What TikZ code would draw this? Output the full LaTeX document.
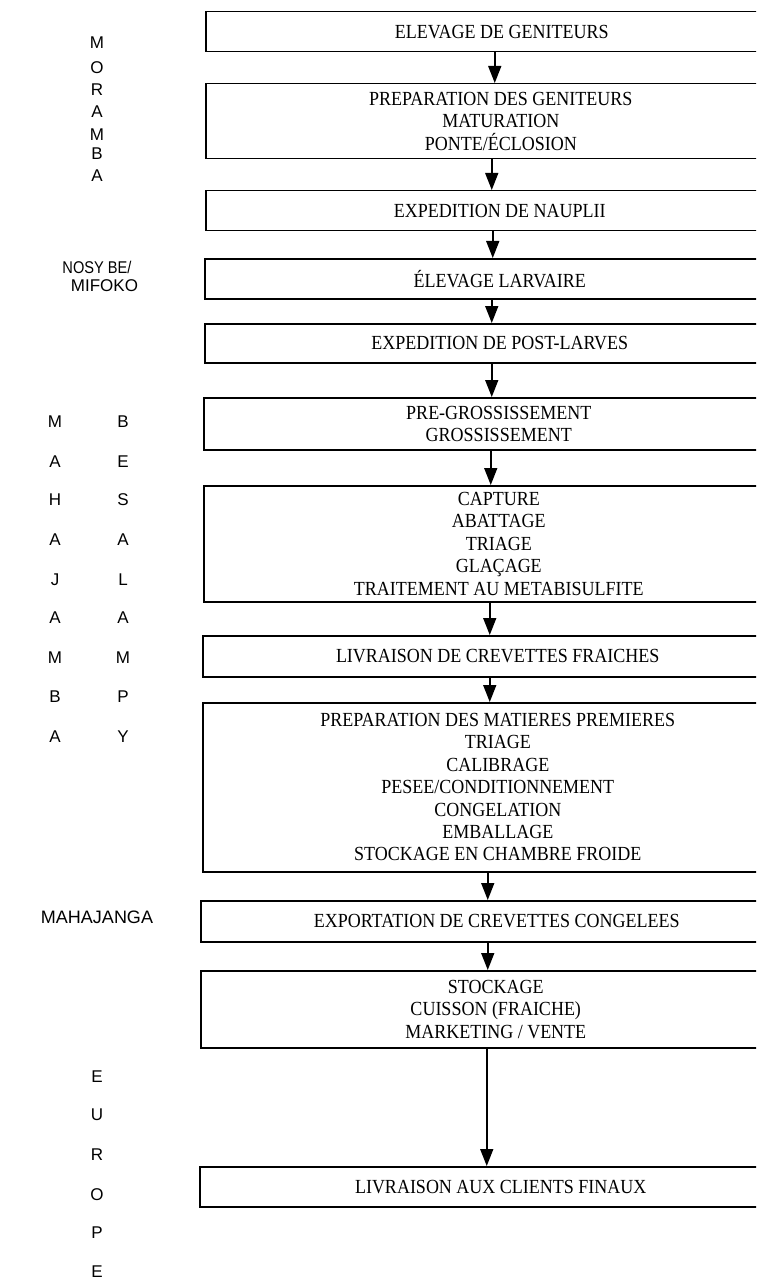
\documentclass[tikz,border=0pt]{standalone}
\usepackage{fontspec}
\setmainfont{Liberation Serif}[FakeStretch=0.9]
\newfontfamily\labfont{Liberation Sans}
\newfontfamily\labnarrow{Liberation Sans}[FakeStretch=0.86]
\usetikzlibrary{arrows.meta}
\begin{document}
\begin{tikzpicture}[x=1pt,y=-1pt,
  box/.style={draw, line width=1.5pt, rectangle, inner sep=0pt, align=center,
    anchor=north west, font=\fontsize{20}{22.4}\selectfont},
  lab/.style={font=\labfont\fontsize{17}{17}\selectfont, inner sep=0pt},
  arr/.style={line width=1.5pt, -{Triangle[length=17pt,width=13pt]}}]
\useasboundingbox (0,0) rectangle (756,1281);
\clip (0,0) rectangle (756,1281);
% boxes: left x, top y, width = 2*(text centre - left), height
\node[box, minimum width=592pt, minimum height=40pt] (b1) at (205,11) {ELEVAGE DE GENITEURS};
\node[box, minimum width=590pt, minimum height=75pt] (b2) at (205,83) {PREPARATION DES GENITEURS\\MATURATION\\PONTE/ÉCLOSION};
\node[box, minimum width=588pt, minimum height=40pt] (b3) at (205,190) {EXPEDITION DE NAUPLII};
\node[box, minimum width=590pt, minimum height=40pt] (b4) at (204,258) {ÉLEVAGE LARVAIRE};
\node[box, minimum width=590pt, minimum height=39pt] (b5) at (204,323) {EXPEDITION DE POST-LARVES};
\node[box, minimum width=590pt, minimum height=52pt] (b6) at (203,397) {PRE-GROSSISSEMENT\\GROSSISSEMENT};
\node[box, minimum width=590pt, minimum height=116pt] (b7) at (203,485) {CAPTURE\\ABATTAGE\\TRIAGE\\GLAÇAGE\\TRAITEMENT AU METABISULFITE};
\node[box, minimum width=590pt, minimum height=41pt] (b8) at (202,635) {LIVRAISON DE CREVETTES FRAICHES};
\node[box, minimum width=590pt, minimum height=169pt] (b9) at (202,702) {PREPARATION DES MATIERES PREMIERES\\TRIAGE\\CALIBRAGE\\PESEE/CONDITIONNEMENT\\CONGELATION\\EMBALLAGE\\STOCKAGE EN CHAMBRE FROIDE};
\node[box, minimum width=592pt, minimum height=41pt] (b10) at (200,900) {EXPORTATION DE CREVETTES CONGELEES};
\node[box, minimum width=590pt, minimum height=77pt] (b11) at (200,970) {STOCKAGE\\CUISSON (FRAICHE)\\MARKETING / VENTE};
\node[box, minimum width=602pt, minimum height=40pt] (b12) at (199,1166) {LIVRAISON AUX CLIENTS FINAUX};
% arrows
\draw[arr] ([xshift=-7pt]b1.south) -- ([xshift=-6pt]b2.north);
\draw[arr] ([xshift=-9pt]b2.south) -- ([xshift=-8pt]b3.north);
\draw[arr] ([xshift=-7pt]b3.south) -- ([xshift=-7pt]b4.north);
\draw[arr] ([xshift=-8pt]b4.south) -- ([xshift=-8pt]b5.north);
\draw[arr] ([xshift=-8pt]b5.south) -- ([xshift=-7pt]b6.north);
\draw[arr] ([xshift=-8pt]b6.south) -- ([xshift=-8pt]b7.north);
\draw[arr] ([xshift=-9pt]b7.south) -- ([xshift=-8pt]b8.north);
\draw[arr] ([xshift=-8pt]b8.south) -- ([xshift=-8pt]b9.north);
\draw[arr] ([xshift=-10pt]b9.south) -- ([xshift=-9pt]b10.north);
\draw[arr] ([xshift=-9pt]b10.south) -- ([xshift=-8pt]b11.north);
\draw[arr] ([xshift=-9pt]b11.south) -- ([xshift=-14pt]b12.north);
% left labels
\foreach \l/\y [count=\i] in {M/43,O/68,R/90,A/112,M/135,B/154,A/176}
  \node[lab] (mor\i) at (97,\y) {\l};
\foreach \l/\y [count=\i] in {M/422,A/462,H/500,A/540,J/580,A/618,M/658,B/697,A/737}
  \node[lab] (mah\i) at (55,\y) {\l};
\foreach \l/\y [count=\i] in {B/422,E/462,S/500,A/540,L/580,A/618,M/658,P/697,Y/737}
  \node[lab] (bes\i) at (123,\y) {\l};
\foreach \l/\y [count=\i] in {E/1077,U/1115,R/1155,O/1195,P/1233,E/1272}
  \node[lab] (eur\i) at (97,\y) {\l};
\node[lab, font=\labnarrow\fontsize{17}{17}\selectfont] (nosy) at (97,267) {NOSY BE/};
\node[lab] (mifoko) at (104.5,286) {MIFOKO};
\node[lab, font=\labfont\fontsize{18}{18}\selectfont] (mahaj) at (97,917) {MAHAJANGA};
\end{tikzpicture}
\end{document}
